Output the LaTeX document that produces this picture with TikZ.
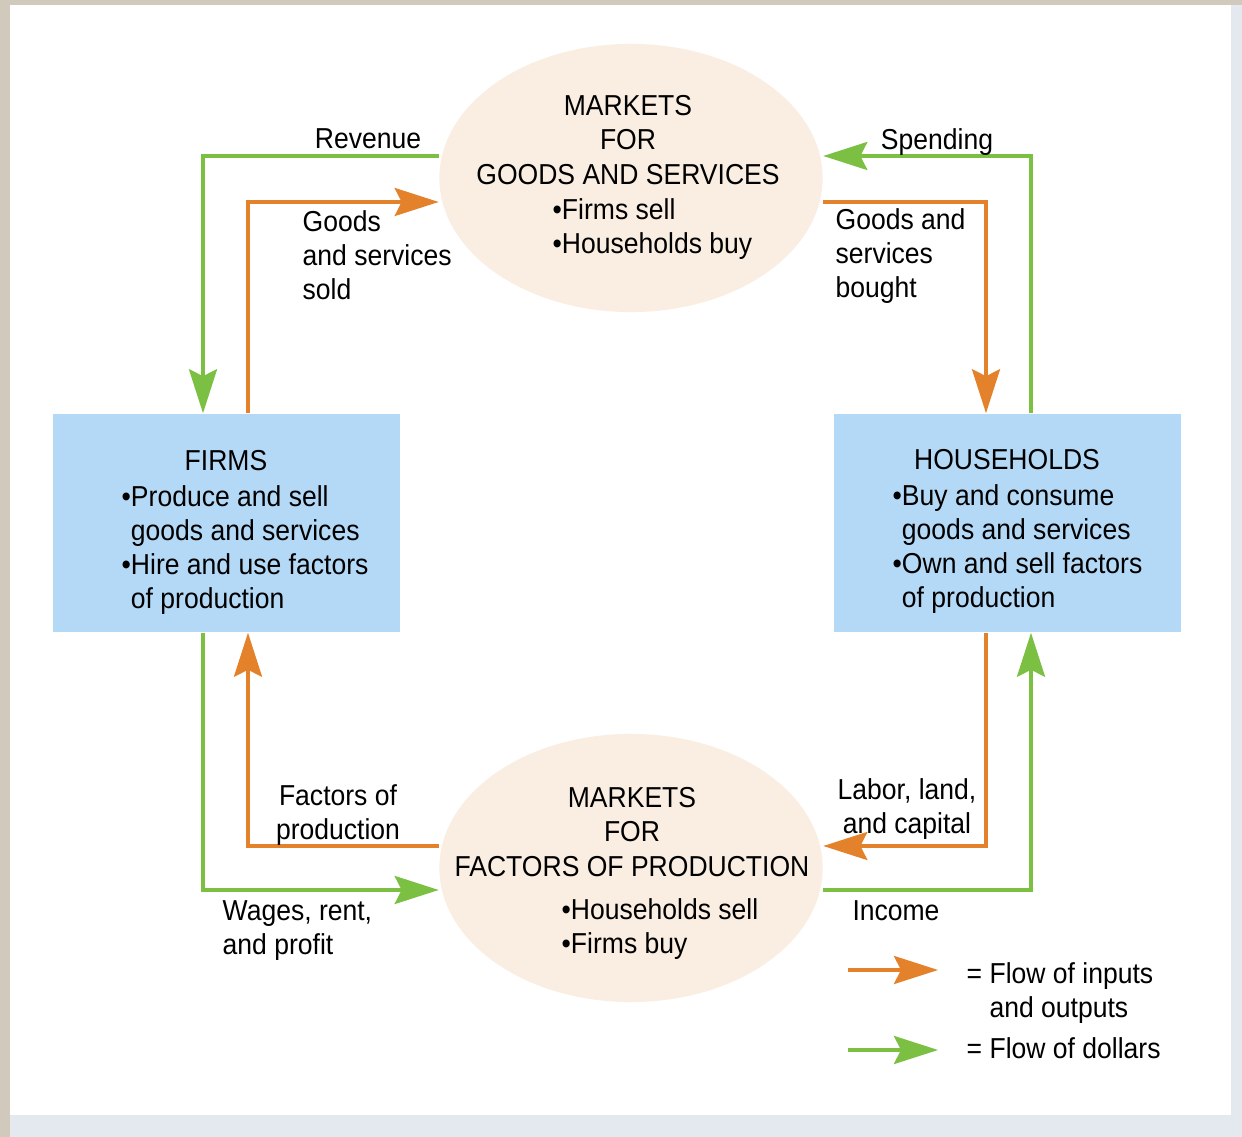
\documentclass[tikz,border=0pt]{standalone}
\usepackage{fontspec}
\setmainfont[FakeStretch=0.92]{Liberation Sans}
\usepackage{xcolor,tikz}
\usetikzlibrary{arrows.meta,shapes.geometric,positioning}
\tikzset{>=stealth}
\definecolor{flowor}{HTML}{E4822B}
\definecolor{flowgr}{HTML}{7BC043}
\definecolor{mktfill}{HTML}{F9EEE1}
\definecolor{agentfill}{HTML}{B4D9F7}
\definecolor{framebeige}{HTML}{D1C9BC}
\definecolor{framegray}{HTML}{E4E8EF}
\tikzset{
  market/.style={ellipse, fill=mktfill, minimum width=3.83cm, minimum height=2.68cm, inner sep=0pt},
  agent/.style={rectangle, fill=agentfill, minimum width=3.47cm, minimum height=2.18cm, inner sep=0pt},
  lbl/.style={inner sep=0pt, align=left},
  clbl/.style={inner sep=0pt, align=center},
  realflow/.style={draw=flowor, line width=1pt, -{Stealth[length=0.44cm,width=0.28cm,inset=0.07cm]}},
  moneyflow/.style={draw=flowgr, line width=1pt, -{Stealth[length=0.44cm,width=0.28cm,inset=0.07cm]}},
}

\begin{document}
\begin{tikzpicture}[x=0.01cm, y=-0.01cm, font=\fontsize{8.2}{9.7}\selectfont]
\useasboundingbox (0,0) rectangle (1242,1137);
\fill[framebeige] (0,0) rectangle (1242,1137);
\fill[framegray] (10,5) rectangle (1242,1137);
\fill[white] (10,5) rectangle (1231,1115);

\node[market] (mktgoods) at (631,178) {};
\node[market] (mktfactors) at (631,868) {};
\node[agent] (firms) at (226.5,523) {};
\node[agent] (households) at (1007.5,523) {};

\node[clbl] (goodstitle) at (628,140) {MARKETS\\FOR\\GOODS AND SERVICES};
\node[lbl, anchor=west] (goodsbul) at (552,229) {•Firms sell\\•Households buy};
\node[clbl] (factorstitle) at (632,832) {MARKETS\\FOR\\FACTORS OF PRODUCTION};
\node[lbl, anchor=west] (factorsbul) at (561,929) {•Households sell\\•Firms buy};
\node[clbl] (firmstitle) at (226,461) {FIRMS};
\node[lbl, anchor=west] (firmsbul) at (121,550) {•Produce and sell\\\hphantom{•}goods and services\\•Hire and use factors\\\hphantom{•}of production};
\node[clbl] (hhtitle) at (1007,460) {HOUSEHOLDS};
\node[lbl, anchor=west] (hhbul) at (892,549) {•Buy and consume\\\hphantom{•}goods and services\\•Own and sell factors\\\hphantom{•}of production};

\draw[moneyflow] (mktgoods.west |- 0,156) -| (firms.north -| 203,0);
\draw[realflow] (firms.north -| 248,0) |- (mktgoods.west |- 0,202);
\draw[realflow] (mktgoods.east |- 0,202) -| (households.north -| 986,0);
\draw[moneyflow] (households.north -| 1031,0) |- (mktgoods.east |- 0,156);
\draw[realflow] (households.south -| 986,0) |- (mktfactors.east |- 0,846);
\draw[moneyflow] (mktfactors.east |- 0,890) -| (households.south -| 1031,0);
\draw[realflow] (mktfactors.west |- 0,846) -| (firms.south -| 248,0);
\draw[moneyflow] (firms.south -| 203,0) |- (mktfactors.west |- 0,890);

\node[clbl] (revenue) at (368,139) {Revenue};
\node[lbl, anchor=west] (sold) at (302,255) {Goods\\and services\\sold};
\node[clbl] (spending) at (937,142) {Spending};
\node[lbl, anchor=west] (bought) at (835,256) {Goods and\\services\\bought};
\node[clbl] (factors) at (338,815) {Factors of\\production};
\node[clbl] (labor) at (907,809) {Labor, land,\\and capital};
\node[lbl, anchor=west] (wages) at (222,931) {Wages, rent,\\and profit};
\node[clbl] (income) at (896,911) {Income};

\coordinate (legora) at (848,970);
\coordinate (legorb) at (938,970);
\coordinate (leggra) at (848,1050);
\coordinate (leggrb) at (938,1050);
\draw[realflow] (legora) -- (legorb);
\draw[moneyflow] (leggra) -- (leggrb);
\node[lbl, anchor=west] (legreal) at (966,993) {= Flow of inputs\\\hphantom{=}\ and outputs};
\node[lbl, anchor=west] (legmoney) at (966,1048) {= Flow of dollars};
\end{tikzpicture}
\end{document}
